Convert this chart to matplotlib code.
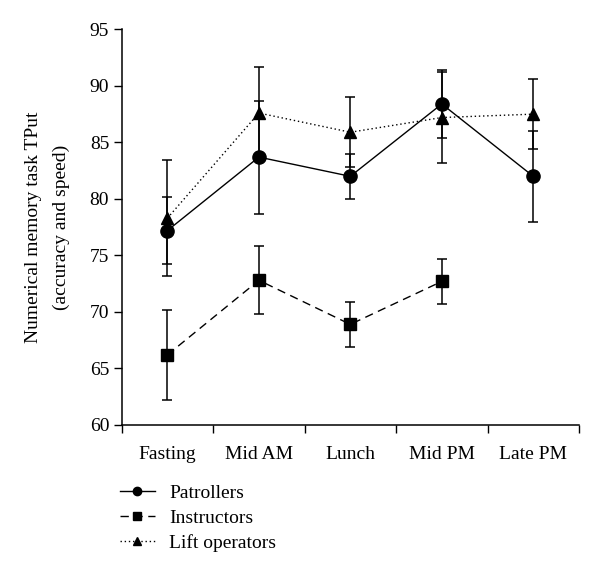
import matplotlib
matplotlib.use("Agg")
import matplotlib.pyplot as plt
from matplotlib.lines import Line2D
import numpy as np

categories = ["Fasting", "Mid AM", "Lunch", "Mid PM", "Late PM"]
patrollers = [77.2, 83.7, 82.0, 88.4, 82.0]
patrollers_err = [3.0, 5.0, 2.0, 3.0, 4.0]
instructors = [66.2, 72.8, 68.9, 72.7]
instructors_err = [4.0, 3.0, 2.0, 2.0]
lift = [78.3, 87.6, 85.9, 87.2, 87.5]
lift_err = [5.1, 4.1, 3.1, 4.0, 3.1]

plt.rcParams['font.family'] = ['Liberation Serif', 'DejaVu Serif']
plt.rcParams['font.size'] = 14

fig = plt.figure(figsize=(6.0, 5.76), dpi=100)
ax = fig.add_axes([0.2028, 0.2622, 0.7622, 0.6868])

x = np.arange(len(categories)) + 0.5
xi = x[:len(instructors)]

common = dict(color='black', ecolor='black', elinewidth=1.1, capsize=3.4, capthick=1.1, linewidth=1.0)
ls_lift = (0, (1, 2))
ls_inst = (0, (6, 4))
ax.errorbar(x, lift, yerr=lift_err, marker='^', markersize=8, linestyle=ls_lift, **common)
ax.errorbar(xi, instructors, yerr=instructors_err, marker='s', markersize=8.5, linestyle=ls_inst, **common)
ax.errorbar(x, patrollers, yerr=patrollers_err, marker='o', markersize=9.5, linestyle='-', **common)

ax.set_xlim(0, 5)
ax.set_ylim(60, 95)
ax.set_yticks(np.arange(60, 96, 5))
ax.set_xticks(np.arange(0, 6))
ax.set_xticklabels([])
ax.set_xticks(x, minor=True)
ax.set_xticklabels(categories, minor=True)
ax.tick_params(axis='x', which='minor', length=0, pad=15)
ax.tick_params(axis='x', which='major', direction='out', length=6, width=1)
ax.tick_params(axis='y', direction='out', length=6, width=1, pad=3)
for s in ['top', 'right']:
    ax.spines[s].set_visible(False)
for s in ['left', 'bottom']:
    ax.spines[s].set_linewidth(1.1)

ax.set_ylabel("Numerical memory task TPut\n(accuracy and speed)", labelpad=14, linespacing=1.8)

handles = [
    Line2D([], [], color='black', linestyle='-', marker='o', markersize=6, linewidth=1.0),
    Line2D([], [], color='black', linestyle=ls_inst, marker='s', markersize=5.5, linewidth=1.0),
    Line2D([], [], color='black', linestyle=ls_lift, marker='^', markersize=5.5, linewidth=1.0),
]
labels = ["Patrollers", "Instructors", "Lift operators"]
fig.legend(handles, labels, loc='upper left',
           bbox_to_anchor=(0.17, 0.19), frameon=False, handlelength=1.8,
           labelspacing=0.38, handletextpad=0.75, fontsize=14)

fig.savefig("out.png", dpi=100)
